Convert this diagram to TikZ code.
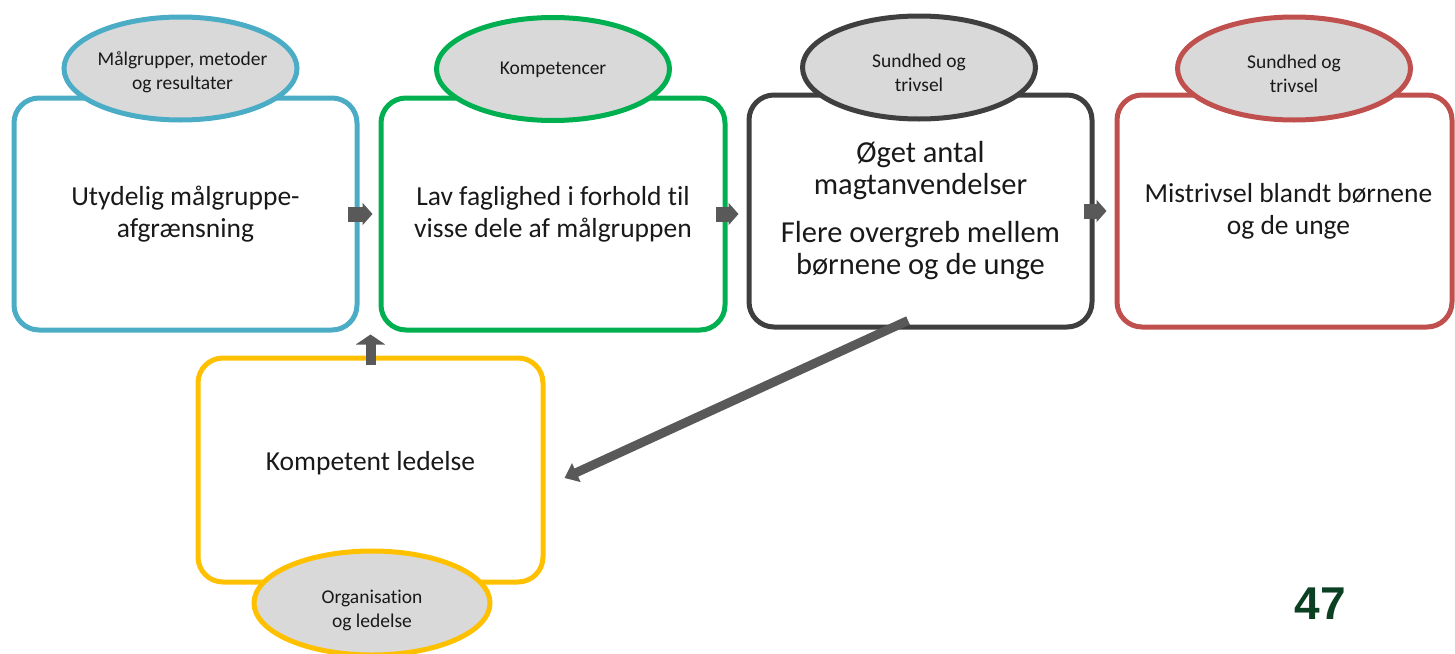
\documentclass[tikz,border=0pt]{standalone}
\usepackage{fontspec}
\setmainfont{Carlito}[Ligatures=NoCommon]
\newfontfamily\numfont{Liberation Sans}
\usetikzlibrary{arrows.meta,shapes.geometric}
\definecolor{cblue}{HTML}{4BACC6}
\definecolor{cgreen}{HTML}{00B050}
\definecolor{cdark}{HTML}{3F3F3F}
\definecolor{cred}{HTML}{C0504D}
\definecolor{cyellow}{HTML}{FFC000}
\definecolor{cgray}{HTML}{D9D9D9}
\definecolor{carrow}{HTML}{595959}
\definecolor{cnum}{HTML}{0B4023}
\begin{document}
\begin{tikzpicture}[x=1pt,y=-1pt,
  box/.style={draw,line width=5pt,rounded corners=25pt,inner sep=0pt,minimum height=232pt},
  oval/.style={ellipse,draw,fill=cgray,line width=5pt,minimum width=233pt,minimum height=103pt,inner sep=0pt},
  ovaltext/.style={align=center,font=\fontsize{19.5}{24}\selectfont,text=black!90,inner sep=0pt},
  maintext/.style={align=center,font=\fontsize{27.5}{32}\selectfont,text=black!90,inner sep=0pt},
  blk/.style={line width=15pt,draw=carrow,-{Triangle[length=10pt,width=22pt]}}
]
\useasboundingbox (0,0) rectangle (1455,653);
\clip (0,0) rectangle (1455,653);
% boxes
\node[box,minimum width=343pt,draw=cblue] (b1) at (185.5,214) {};
\node[box,minimum width=344pt,draw=cgreen] (b2) at (553,214) {};
\node[box,minimum width=343pt,draw=cdark] (b3) at (920.5,211) {};
\node[box,minimum width=335pt,draw=cred] (b4) at (1284.5,211) {};
\node[box,minimum width=345pt,minimum height=224pt,draw=cyellow] (b5) at (370.5,470) {};
% texts
\node[maintext] (t1) at (b1) {Utydelig målgruppe-\\afgrænsning};
\node[maintext] (t2) at (b2) {Lav faglighed i forhold til\\visse dele af målgruppen};
\node[maintext,font=\fontsize{30.5}{32}\selectfont] (t3) at (b3) {Øget antal\\magtanvendelser\\[16pt]Flere overgreb mellem\\børnene og de unge};
\node[maintext] (t4) at ([xshift=4pt]b4.center) {Mistrivsel blandt børnene\\og de unge};
\node[maintext] (t5) at ([yshift=7pt]b5.center) {Kompetent ledelse};
% block arrows
\draw[blk] ([xshift=-12pt]b1.east) -- ([xshift=-6pt]b2.west |- b1.east);
\draw[blk] ([xshift=-12pt]b2.east) -- ([xshift=-8pt]b3.west |- b2.east);
\draw[blk] ([xshift=-11pt]b3.east) -- ([xshift=-8pt]b4.west |- b3.east);
\draw[line width=10pt,draw=carrow,-{Triangle[length=10pt,width=29pt]}]
  ([yshift=-9pt]b5.north) -- ([yshift=21pt]b5.north);
% ellipses
\node[oval,draw=cblue] (e1) at (180.5,68.5) {};
\node[oval,draw=cgreen] (e2) at (553,69) {};
\node[oval,draw=cdark] (e3) at (919,67.5) {};
\node[oval,draw=cred] (e4) at (1294,68.5) {};
\node[oval,draw=cyellow,minimum width=236pt,minimum height=104pt] (e5) at (372,603) {};
\node[ovaltext] (o1) at ([xshift=2pt,yshift=-4pt]e1.center) {Målgrupper, metoder\\og resultater};
\node[ovaltext] (o2) at ([yshift=-1pt]e2.center) {Kompetencer};
\node[ovaltext] (o3) at ([yshift=-5pt]e3.center) {Sundhed og\\trivsel};
\node[ovaltext] (o4) at ([yshift=-5pt]e4.center) {Sundhed og\\trivsel};
\node[ovaltext] (o5) at ([yshift=-7pt]e5.center) {Organisation\\og ledelse};
% diagonal arrow
\draw[line width=9pt,draw=carrow,-{Triangle[length=13pt,width=20pt]}]
  ([xshift=-12.5pt,yshift=9pt]b3.south) -- ([xshift=19pt,yshift=-8pt]b5.east);
% page number
\node[font=\numfont\bfseries\fontsize{46}{46}\selectfont,text=cnum] (pg) at (1320,604) {47};
\end{tikzpicture}
\end{document}
